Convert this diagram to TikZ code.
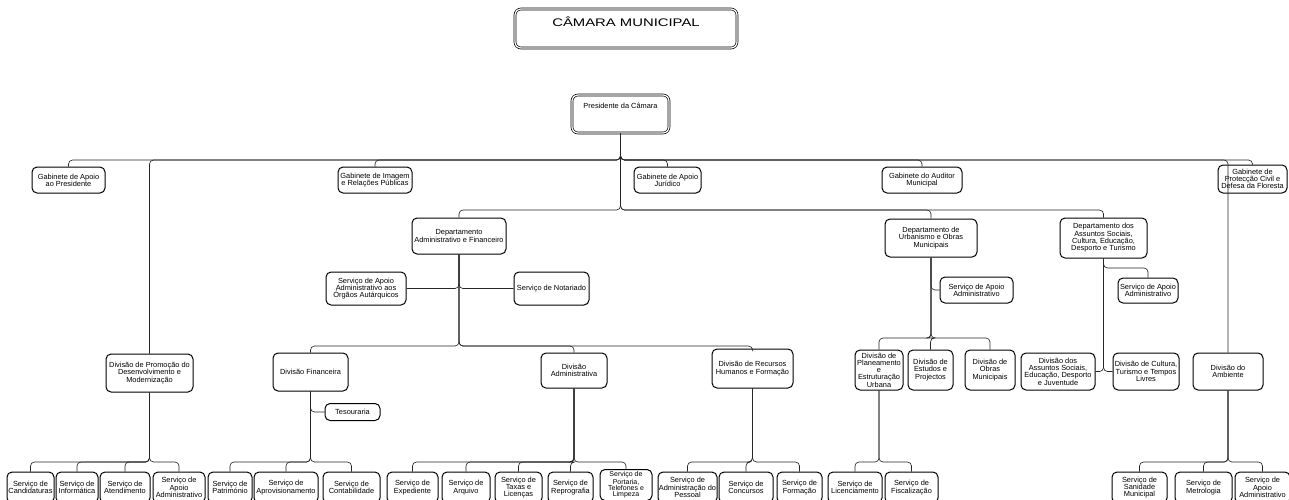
\documentclass[tikz,border=0pt]{standalone}
\usepackage{fontspec}
\setmainfont{Liberation Sans}
\newfontfamily\titlefont[FakeStretch=1.35]{Liberation Sans}

\begin{document}
\begin{tikzpicture}[x=1pt,y=-1pt,
      unit node/.style 2 args={draw,rounded corners=5pt,line width=1pt,align=center,
        inner sep=0.5pt,minimum width=#1pt,minimum height=#2pt,font=\fontsize{7.4}{7.3}\selectfont},
      head node/.style={draw,double,double distance=1.2pt,line width=0.7pt,
        rounded corners=6pt,anchor=base,inner sep=0pt},
      link line/.style={draw=black!85,line width=0.65pt},
      bus line/.style={rounded corners=4pt,to path={|- (\tikztotarget |- #1) -- (\tikztotarget)}},
      side line/.style={rounded corners=4pt,to path={|- (\tikztotarget)}}]

    \useasboundingbox (0,0) rectangle (1289,499);
    \clip (0,0) rectangle (1289,499);

    % levels of the connecting lines
    \coordinate (b1) at (0,160);
    \coordinate (b2) at (0,210);
    \coordinate (b3) at (0,346);
    \coordinate (b4) at (0,338);
    \coordinate (b5) at (0,268);
    \coordinate (b6) at (0,462);

    \node[head node,minimum width=222pt,text height=17pt,text depth=22pt,
          font=\titlefont\fontsize{11}{11}\selectfont] (t) at (626,26) {CÂMARA MUNICIPAL};
    \node[head node,minimum width=97pt,text height=13pt,text depth=25pt,
          font=\fontsize{7.4}{7.3}\selectfont] (p) at (620.5,108) {Presidente da Câmara};

    % gabinetes
    \node[unit node={73}{26}] (g1) at (68.5,180) {Gabinete de Apoio\\ao Presidente};
    \node[unit node={74}{26}] (g2) at (375,180) {Gabinete de Imagem\\e Relações Públicas};
    \node[unit node={67}{26}] (g3) at (667.5,180) {Gabinete de Apoio\\Jurídico};
    \node[unit node={80}{26}] (g4) at (922,180) {Gabinete do Auditor\\Municipal};
    \node[unit node={69}{28}] (g5) at (1252.5,179) {Gabinete de\\Protecção Civil e\\Defesa da Floresta};

    % departamentos
    \node[unit node={94}{36}] (d1) at (459,236) {Departamento\\Administrativo e Financeiro};
    \node[unit node={92}{38}] (d2) at (931,238) {Departamento de\\Urbanismo e Obras\\Municipais};
    \node[unit node={87}{40}] (d3) at (1103.5,238) {Departamento dos\\Assuntos Sociais,\\Cultura, Educação,\\Desporto e Turismo};

    \node[unit node={80}{33}] (s1) at (366,288.5) {Serviço de Apoio\\Administrativo aos\\Órgãos Autárquicos};
    \node[unit node={75}{33}] (s2) at (551.5,288.5) {Serviço de Notariado};
    \node[unit node={73}{26}] (s3) at (976.5,290) {Serviço de Apoio\\Administrativo};
    \node[unit node={60}{25}] (s4) at (1148,290.5) {Serviço de Apoio\\Administrativo};

    % divisoes
    \node[unit node={87}{38}] (v1) at (149.5,373) {Divisão de Promoção do\\Desenvolvimento e\\Modernização};
    \node[unit node={75}{38}] (v2) at (310.5,372) {Divisão Financeira};
    \node[unit node={66}{35}] (v3) at (574,370.5) {Divisão\\Administrativa};
    \node[unit node={81}{39}] (v4) at (752.5,368.5) {Divisão de Recursos\\Humanos e Formação};
    \node[unit node={48}{40}] (v5) at (879,370) {Divisão de\\Planeamento\\e\\Estruturação\\Urbana};
    \node[unit node={45}{40}] (v6) at (930.5,370) {Divisão de\\Estudos e\\Projectos};
    \node[unit node={50}{40}] (v7) at (990,370) {Divisão de\\Obras\\Municipais};
    \node[unit node={74}{37}] (v8) at (1058,371.5) {Divisão dos\\Assuntos Sociais,\\Educação, Desporto\\e Juventude};
    \node[unit node={66}{37}] (v9) at (1146,371.5) {Divisão de Cultura,\\Turismo e Tempos\\Livres};
    \node[unit node={70}{37}] (v10) at (1228,371.5) {Divisão do\\Ambiente};

    \node[unit node={55}{17}] (tes) at (352.5,412) {Tesouraria};

    % servicos
    \node[unit node={47}{31}] (a1) at (30.5,487.5) {Serviço de\\Candidaturas};
    \node[unit node={42}{31}] (a2) at (77,487.5) {Serviço de\\Informática};
    \node[unit node={50}{31}] (a3) at (125,487.5) {Serviço de\\Atendimento};
    \node[unit node={52}{31}] (a4) at (179,487.5) {Serviço de\\Apoio\\Administrativo};
    \node[unit node={44}{31}] (f1) at (230,487.5) {Serviço de\\Património};
    \node[unit node={64}{31}] (f2) at (286,487.5) {Serviço de\\Aprovisionamento};
    \node[unit node={57}{31}] (f3) at (351.5,487.5) {Serviço de\\Contabilidade};
    \node[unit node={51}{31}] (e1) at (412.5,487.5) {Serviço de\\Expediente};
    \node[unit node={48}{31}] (e2) at (466,487.5) {Serviço de\\Arquivo};
    \node[unit node={47}{31}] (e3) at (518.5,487.5) {Serviço de\\Taxas e\\Licenças};
    \node[unit node={45}{31}] (e4) at (570.5,487.5) {Serviço de\\Reprografia};
    \node[unit node={52}{31},font=\fontsize{7}{6.2}\selectfont] (e5) at (626,485) {Serviço de\\Portaria,\\Telefones e\\Limpeza};
    \node[unit node={59}{31}] (h1) at (687.5,487.5) {Serviço de\\Administração do\\Pessoal};
    \node[unit node={54}{31}] (h2) at (746,487.5) {Serviço de\\Concursos};
    \node[unit node={45}{31}] (h3) at (799.5,487.5) {Serviço de\\Formação};
    \node[unit node={54}{31}] (u1) at (855,487.5) {Serviço de\\Licenciamento};
    \node[unit node={53}{31}] (u2) at (911.5,487.5) {Serviço de\\Fiscalização};
    \node[unit node={55}{31}] (m1) at (1139.5,487.5) {Serviço de\\Sanidade\\Municipal};
    \node[unit node={57}{31}] (m2) at (1203.5,487.5) {Serviço de\\Metrologia};
    \node[unit node={55}{31}] (m3) at (1262.5,487.5) {Serviço de\\Apoio\\Administrativo};

    \path[link line]
        (p) edge[bus line=b1] (g1)
            edge[bus line=b1] (g2)
            edge[bus line=b1] (g3)
            edge[bus line=b1] (g4)
            edge[bus line=b1] (g5)
            edge[bus line=b1] (v1)
            edge[bus line=b1] (v10)
            edge[bus line=b2] (d1)
            edge[bus line=b2] (d2)
            edge[bus line=b2] (d3)
        (d1) edge[side line] (s1)
             edge[side line] (s2)
             edge[bus line=b3] (v2)
             edge[bus line=b3] (v3)
             edge[bus line=b3] (v4)
        (d2) edge[side line] (s3)
             edge[bus line=b4] (v5)
             edge[bus line=b4] (v6)
             edge[bus line=b4] (v7)
        (d3) edge[bus line=b5] (s4)
             edge[side line] (v8)
             edge[side line] (v9)
        (v1) edge[bus line=b6] (a1)
             edge[bus line=b6] (a2)
             edge[bus line=b6] (a3)
             edge[bus line=b6] (a4)
        (v2) edge[side line] (tes)
             edge[bus line=b6] (f1)
             edge[bus line=b6] (f2)
             edge[bus line=b6] (f3)
        (v3) edge[bus line=b6] (e1)
             edge[bus line=b6] (e2)
             edge[bus line=b6] (e3)
             edge[bus line=b6] (e4)
             edge[bus line=b6] (e5)
        (v4) edge[bus line=b6] (h1)
             edge[bus line=b6] (h2)
             edge[bus line=b6] (h3)
        (v5) edge[bus line=b6] (u1)
             edge[bus line=b6] (u2)
        (v10) edge[bus line=b6] (m1)
              edge[bus line=b6] (m2)
              edge[bus line=b6] (m3)
    ;
\end{tikzpicture}
\end{document}
